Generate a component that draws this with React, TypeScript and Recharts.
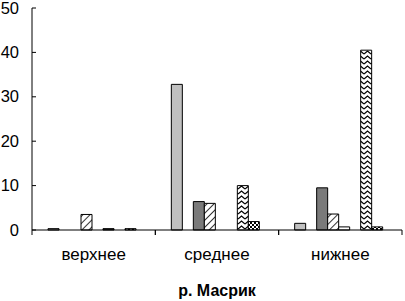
import React from 'react';
import { BarChart, Bar, XAxis, YAxis } from 'recharts';

const categories = ['верхнее', 'среднее', 'нижнее'];
const s1 = [0.3, 32.8, 1.5];
const s2 = [0, 0, 0];
const s3 = [0, 6.4, 9.5];
const s4 = [3.5, 6.0, 3.6];
const s5 = [0, 0, 0.7];
const s6 = [0.3, 0, 0];
const s7 = [0, 10.0, 40.5];
const s8 = [0.3, 1.9, 0.7];
const yTicks = [0, 10, 20, 30, 40, 50];
const title = 'р. Масрик';

const seriesList = [
  { key: 's1', values: s1, fill: '#c0c0c0' },
  { key: 's2', values: s2, fill: '#969696' },
  { key: 's3', values: s3, fill: '#7a7a7a' },
  { key: 's4', values: s4, fill: 'url(#hatch)' },
  { key: 's5', values: s5, fill: '#ffffff' },
  { key: 's6', values: s6, fill: '#333333' },
  { key: 's7', values: s7, fill: 'url(#zigzag)' },
  { key: 's8', values: s8, fill: 'url(#checker)' },
];

const data = categories.map((c, i) => {
  const row: Record<string, any> = { name: c };
  seriesList.forEach((s) => {
    row[s.key] = s.values[i];
  });
  return row;
});

const FONT = '"Liberation Sans", Arial, sans-serif';

const YTick = (props: any) => {
  const { x, y, payload } = props;
  return (
    <g>
      <line x1={x} y1={y} x2={x + 4} y2={y} stroke="#000" strokeWidth={1} />
      <text x={x - 13} y={y + 5.5} textAnchor="end" fontFamily={FONT} fontSize={16.5} fill="#000">
        {payload.value}
      </text>
    </g>
  );
};

const XTick = (props: any) => {
  const { x, y, payload } = props;
  const half = 370 / 3 / 2;
  return (
    <g>
      <line x1={x - half} y1={y} x2={x - half} y2={y + 5} stroke="#000" strokeWidth={1} />
      <line x1={x + half} y1={y} x2={x + half} y2={y + 5} stroke="#000" strokeWidth={1} />
      <text x={x} y={y + 30} textAnchor="middle" fontFamily={FONT} fontSize={17} fill="#000">
        {payload.value}
      </text>
    </g>
  );
};

const TitleLabel = (props: any) => {
  const { viewBox } = props;
  const cx = viewBox.x + viewBox.width / 2;
  return (
    <text x={cx} y={296} textAnchor="middle" fontFamily={FONT} fontSize={16} fontWeight="bold" fill="#000">
      {title}
    </text>
  );
};

export default function App() {
  return (
    <div style={{ position: 'absolute', left: 0, top: 0, background: '#fff' }}>
      <BarChart
        width={405}
        height={301}
        data={data}
        margin={{ top: 8, right: 3, bottom: 0, left: 0 }}
        barCategoryGap={16}
        barGap={0}
      >
        <defs>
          <pattern id="hatch" width="5" height="5" patternUnits="userSpaceOnUse" patternTransform="rotate(45)">
            <rect width="5" height="5" fill="#fff" />
            <line x1="0" y1="0" x2="0" y2="5" stroke="#000" strokeWidth="1.6" />
          </pattern>
          <pattern id="zigzag" width="7" height="5" patternUnits="userSpaceOnUse">
            <rect width="7" height="5" fill="#fff" />
            <polyline points="0,4 3.5,1 7,4" fill="none" stroke="#000" strokeWidth="1.2" />
          </pattern>
          <pattern id="checker" width="4" height="4" patternUnits="userSpaceOnUse">
            <rect width="4" height="4" fill="#fff" />
            <rect x="0" y="0" width="2" height="2" fill="#000" />
            <rect x="2" y="2" width="2" height="2" fill="#000" />
          </pattern>
        </defs>
        <XAxis
          dataKey="name"
          height={71}
          tickLine={false}
          tickSize={0}
          tickMargin={0}
          tick={<XTick />}
          axisLine={{ stroke: '#000', strokeWidth: 1 }}
          interval={0}
          label={<TitleLabel />}
        />
        <YAxis
          width={32}
          domain={[0, 50]}
          ticks={yTicks}
          tickLine={false}
          tickSize={0}
          tickMargin={0}
          tick={<YTick />}
          axisLine={{ stroke: '#000', strokeWidth: 1 }}
          interval={0}
        />
        {seriesList.map((s) => (
          <Bar
            key={s.key}
            dataKey={s.key}
            fill={s.fill}
            stroke="#000"
            strokeWidth={1}
            isAnimationActive={false}
          />
        ))}
      </BarChart>
    </div>
  );
}
